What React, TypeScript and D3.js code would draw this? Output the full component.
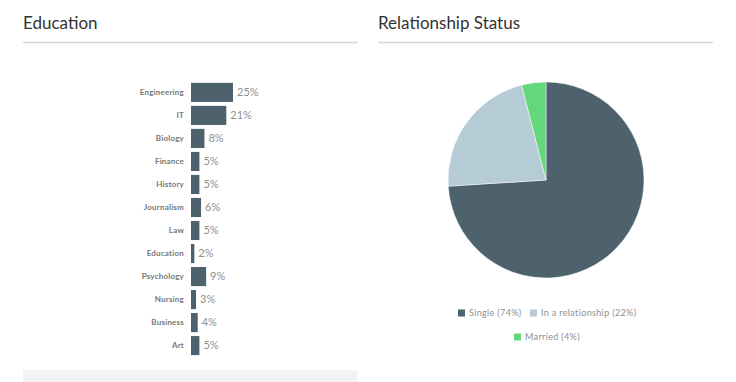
import React from "react";
import * as d3 from "d3";

const eduCategories = ["Engineering", "IT", "Biology", "Finance", "History", "Journalism", "Law", "Education", "Psychology", "Nursing", "Business", "Art"];
const eduValues = [25, 21, 8, 5, 5, 6, 5, 2, 9, 3, 4, 5];

const relLabels = ["Single", "In a relationship", "Married"];
const relValues = [74, 22, 4];
const relColors = ["#4d626d", "#b5cbd5", "#62d87a"];

const FONT = "Lato, 'Open Sans', sans-serif";

export default function App() {
  const W = 736, H = 382;
  const x = d3.scaleLinear().domain([0, 25]).range([0, 42]);
  const y = d3.scaleBand().domain(eduCategories).range([81, 357]).paddingInner(0.17).paddingOuter(0.08);
  const barX = 191;

  const pie = d3.pie<number>().sort(null).value((d) => d)(relValues);
  const arc = d3.arc<d3.PieArcDatum<number>>().innerRadius(0).outerRadius(98);
  const cx = 546, cy = 180;

  const legend = [
    { i: 0, x: 458, y: 313 },
    { i: 1, x: 530, y: 313 },
    { i: 2, x: 514, y: 337 },
  ];

  return (
    <svg width={W} height={H} style={{ position: "absolute", left: 0, top: 0, background: "#fff" }} fontFamily={FONT}>
      <text x={23} y={29} fontSize={17} fill="#333">Education</text>
      <line x1={23} x2={358} y1={42.5} y2={42.5} stroke="#d6d6d6" strokeWidth={1.5} />
      <text x={378} y={29} fontSize={17} fill="#333">Relationship Status</text>
      <line x1={378} x2={713} y1={42.5} y2={42.5} stroke="#d6d6d6" strokeWidth={1.5} />

      {eduCategories.map((c, i) => {
        const by = y(c)!;
        const bh = y.bandwidth();
        const w = x(eduValues[i]);
        return (
          <g key={c}>
            <text x={184} y={by + bh / 2} dy="0.35em" textAnchor="end" fontSize={8} fontWeight={700} fill="#777" letterSpacing={0.2}>{c}</text>
            <rect x={barX} y={by} width={w} height={bh} fill="#4d626d" />
            <text x={barX + w + 4} y={by + bh / 2} dy="0.35em" fontSize={11} fill="#8f8f8f">{eduValues[i]}%</text>
          </g>
        );
      })}
      <rect x={23} y={370} width={335} height={12} fill="#f3f3f3" />

      <g transform={`translate(${cx},${cy})`}>
        {pie.map((p, i) => (
          <path key={i} d={arc(p)!} fill={relColors[i]} stroke="#fff" strokeWidth={0.5} />
        ))}
      </g>

      {legend.map((l) => (
        <g key={l.i}>
          <rect x={l.x} y={l.y - 3.5} width={7} height={7} fill={relColors[l.i]} />
          <text x={l.x + 11} y={l.y} dy="0.35em" fontSize={9} fill="#8f8f8f" letterSpacing={0.35}>{`${relLabels[l.i]} (${relValues[l.i]}%)`}</text>
        </g>
      ))}
    </svg>
  );
}
